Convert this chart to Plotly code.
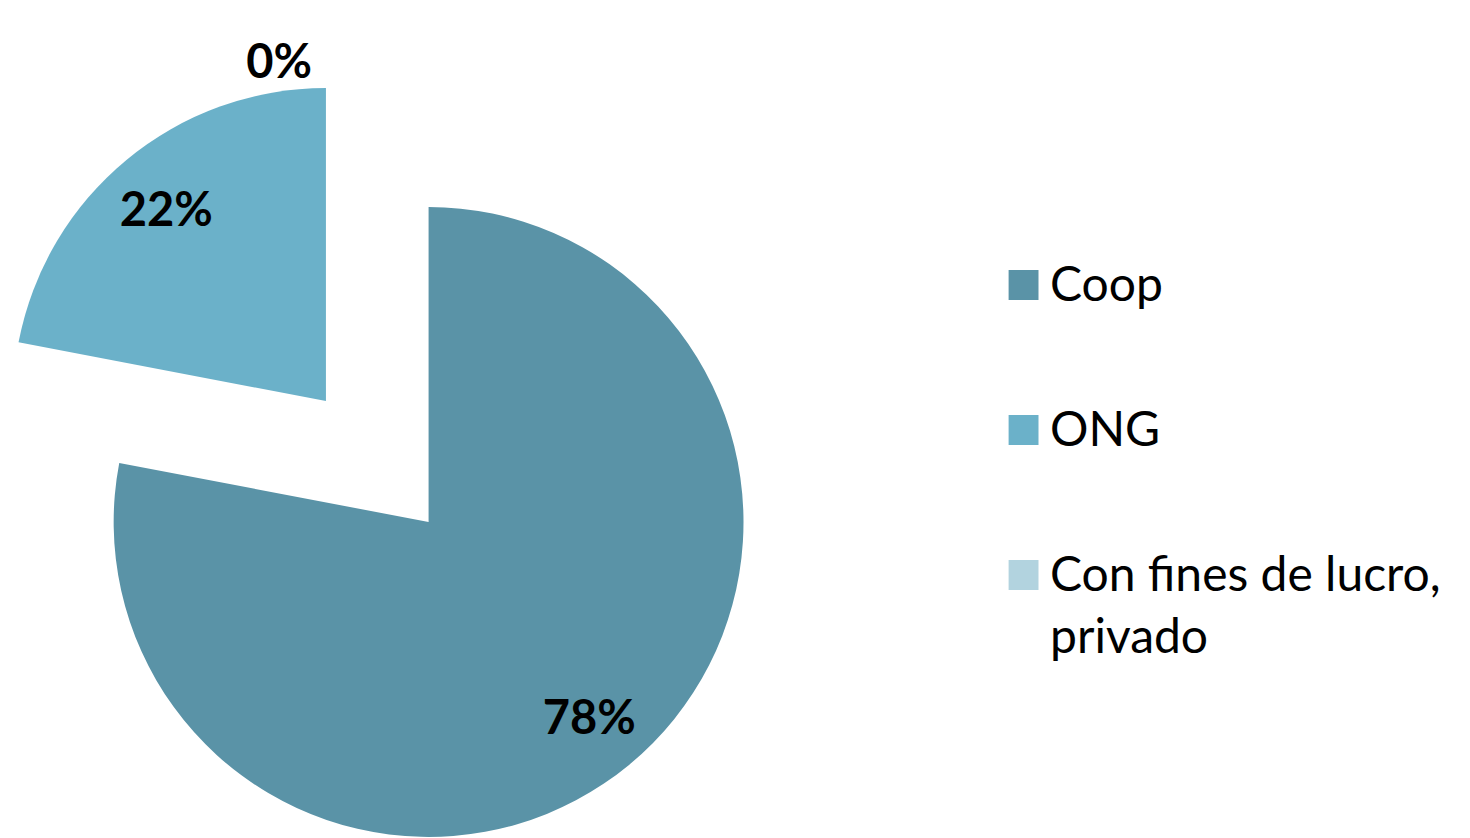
import plotly.graph_objects as go

labels = ['Coop', 'ONG', 'Con fines de lucro, privado']
values = [78, 22, 0]
colors = ['#5A93A7', '#6BB1C9', '#B2D3DF']

W, H = 1470, 838
OFF_X, OFF_Y = 11, 8  # page body margin plus small nudge
CLEAR = 'rgba(0,0,0,0)'
FONT = 'Lato'


def px_x(v):
    return (v - OFF_X) / W


def px_y(v):
    return 1 - (v - OFF_Y) / H


coop_dom = dict(x=[px_x(112), px_x(744)], y=[px_y(838), px_y(206)])
ong_dom = dict(x=[px_x(11), px_x(639)], y=[px_y(715), px_y(87)])
common = dict(labels=labels, values=values, sort=False, direction='clockwise',
              rotation=0, showlegend=False)
label_font = dict(family=FONT, size=47, color='black', weight='bold')

fig = go.Figure()

# main pie: only the Coop slice is painted
fig.add_trace(go.Pie(
    marker=dict(colors=[colors[0], CLEAR, CLEAR], line=dict(width=0)),
    textinfo='none', domain=coop_dom, hoverinfo='label+percent', **common,
))

# exploded ONG slice
fig.add_trace(go.Pie(
    marker=dict(colors=[CLEAR, colors[1], colors[2]], line=dict(width=0)),
    texttemplate=['', '', '%{percent}'],
    textposition=['none', 'none', 'outside'],
    textfont=label_font, domain=ong_dom, hoverinfo='label+percent', **common,
))

# percent labels, placed in a ring so they sit toward the rim
fig.add_trace(go.Pie(
    marker=dict(colors=[CLEAR] * 3, line=dict(width=0)), hole=0.6,
    texttemplate=['%{percent}', '', ''], textposition=['inside', 'none', 'none'],
    insidetextorientation='horizontal', textfont=label_font,
    domain=coop_dom, hoverinfo='skip', **common,
))
fig.add_trace(go.Pie(
    marker=dict(colors=[CLEAR] * 3, line=dict(width=0)), hole=0.6,
    texttemplate=['', '%{percent}', ''], textposition=['none', 'inside', 'none'],
    insidetextorientation='horizontal', textfont=label_font,
    domain=ong_dom, hoverinfo='skip', **common,
))

# legend drawn by hand so the swatches match the large text
rows = [285, 430, 575]
for lab, col, yc in zip(labels, colors, rows):
    fig.add_shape(type='rect', xref='paper', yref='paper',
                  x0=px_x(1010), x1=px_x(1040), y0=px_y(yc + 15), y1=px_y(yc - 15),
                  fillcolor=col, line=dict(width=0))
    fig.add_annotation(text=lab.replace(', ', ',<br>'), xref='paper', yref='paper',
                       x=px_x(1050), y=px_y(yc - 33), xanchor='left', yanchor='top',
                       align='left', showarrow=False,
                       font=dict(family=FONT, size=48, color='black'))

fig.update_layout(
    width=W, height=H,
    margin=dict(t=0, b=0, l=0, r=0),
    paper_bgcolor='white', plot_bgcolor='white',
    showlegend=False,
)

fig.write_html('out.html')
